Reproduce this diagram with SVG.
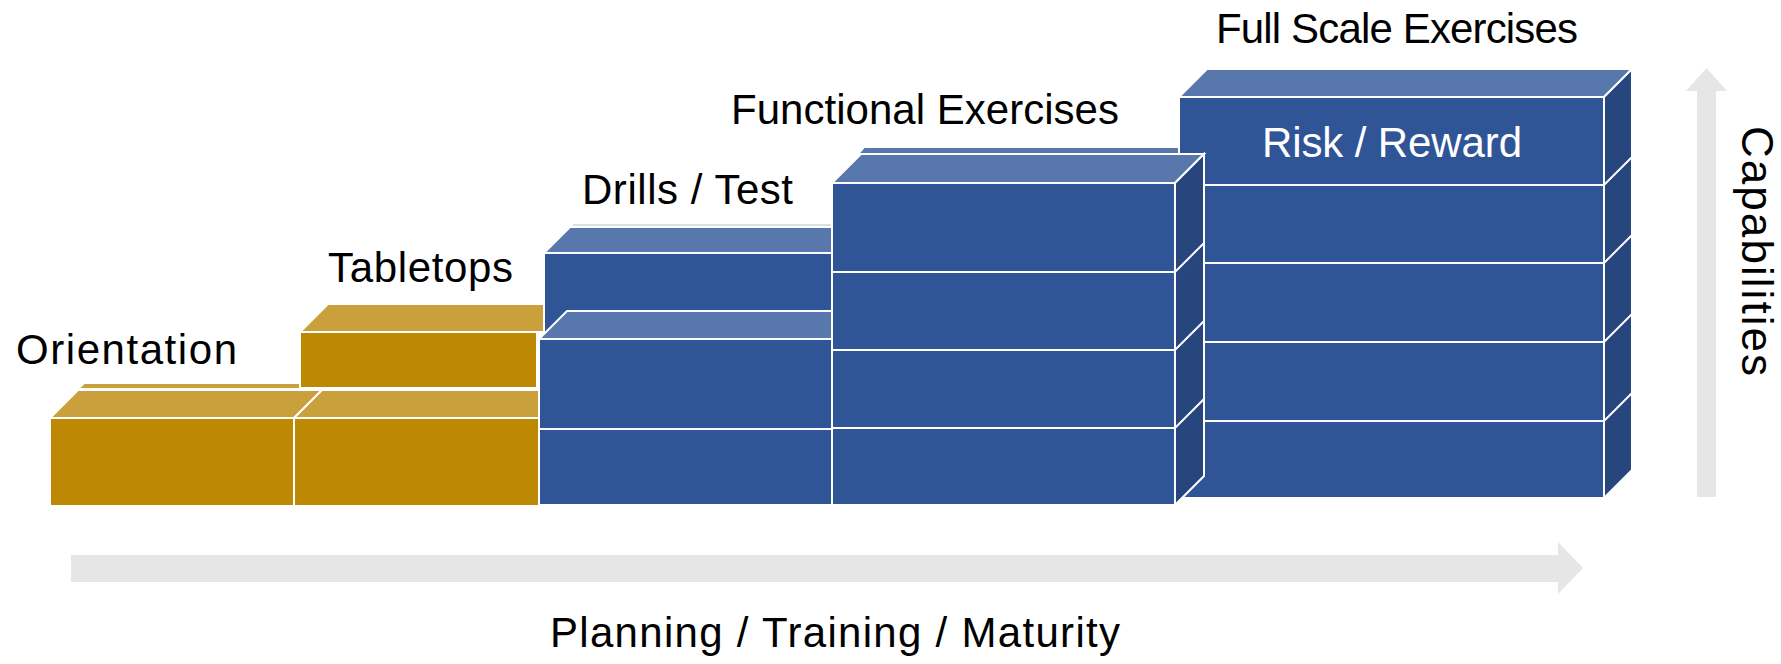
<svg xmlns="http://www.w3.org/2000/svg" width="1781" height="664" viewBox="0 0 1781 664">
<style>
.gf{fill:#BD8905;stroke:#fff;stroke-width:2}
.gt{fill:#C9A03B;stroke:#fff;stroke-width:2}
.bf{fill:#2F5597;stroke:#fff;stroke-width:2}
.bt{fill:#5877AD;stroke:#fff;stroke-width:2}
.bs{fill:#27467E;stroke:#fff;stroke-width:2}
.ln{stroke:#fff;stroke-width:2;fill:none}
.lbl{font-family:"Liberation Sans",Arial,sans-serif;font-size:42px;fill:#000}
.arr{fill:#E7E6E6}
</style>
<g id="connectors">
<polygon class="arr" points="71,555 1558,555 1558,542 1583,568 1558,594 1558,582 71,582"/>
<polygon class="arr" points="1697,497 1697,91 1686,91 1706.5,68 1727,91 1716,91 1716,497"/>
</g>
<g id="fullscale">
<polygon class="bt" points="864,147 1182,147 1182,154 858,154"/>
<polygon class="bt" points="1179,97 1207,69 1632,69 1604,97"/>
<polygon class="bs" points="1604,97 1632,69 1632,470 1604,498"/>
<rect class="bf" x="1179" y="97" width="425" height="401"/>
<path class="ln" d="M1179,185H1604L1632,157M1179,263H1604L1632,235M1179,342H1604L1632,314M1179,421H1604L1632,393"/>
<text class="lbl" x="1262" y="157" textLength="260" style="fill:#fff">Risk / Reward</text>
</g>
<g id="drills-back">
<line x1="573" y1="225" x2="832" y2="225" stroke="#D9DFEB" stroke-width="2"/>
<polygon class="bt" points="544,253 570,227 834,227 834,253"/>
<rect class="bf" x="544" y="253" width="290" height="92"/>
</g>
<g id="tabletops-upper">
<polygon class="gt" points="84,383 302,383 302,389 78,389"/>
<polygon class="gt" points="300,332 328,304 544,304 544,332"/>
<rect class="gf" x="300" y="332" width="237" height="56"/>
</g>
<g id="orientation">
<polygon class="gt" points="50,418 78,390 322,390 294,418"/>
<rect class="gf" x="50" y="418" width="244" height="88"/>
</g>
<g id="tabletops">
<polygon class="gt" points="294,418 322,390 545,390 545,418"/>
<rect class="gf" x="294" y="418" width="245" height="88"/>
</g>
<g id="drills">
<polygon class="bt" points="539,339 567,311 834,311 834,339"/>
<rect class="bf" x="539" y="339" width="293" height="166"/>
<path class="ln" d="M539,429H832"/>
</g>
<g id="functional">
<polygon class="bt" points="832,183 861,154 1204,154 1175,183"/>
<polygon class="bs" points="1175,183 1204,154 1204,476 1175,505"/>
<rect class="bf" x="832" y="183" width="343" height="322"/>
<path class="ln" d="M832,272H1175L1204,243M832,350H1175L1204,321M832,428H1175L1204,399"/>
</g>
<g id="labels">
<text class="lbl" x="16" y="364" textLength="221">Orientation</text>
<text class="lbl" x="328" y="282" textLength="185">Tabletops</text>
<text class="lbl" x="582" y="204" textLength="211">Drills / Test</text>
<text class="lbl" x="731" y="124" textLength="388">Functional Exercises</text>
<text class="lbl" x="1216" y="43" textLength="362">Full Scale Exercises</text>
<text class="lbl" x="550" y="647" textLength="570">Planning / Training / Maturity</text>
<text class="lbl" transform="translate(1742,126) rotate(90)" x="0" y="0" textLength="250" style="font-size:44px">Capabilities</text>
</g>
</svg>
